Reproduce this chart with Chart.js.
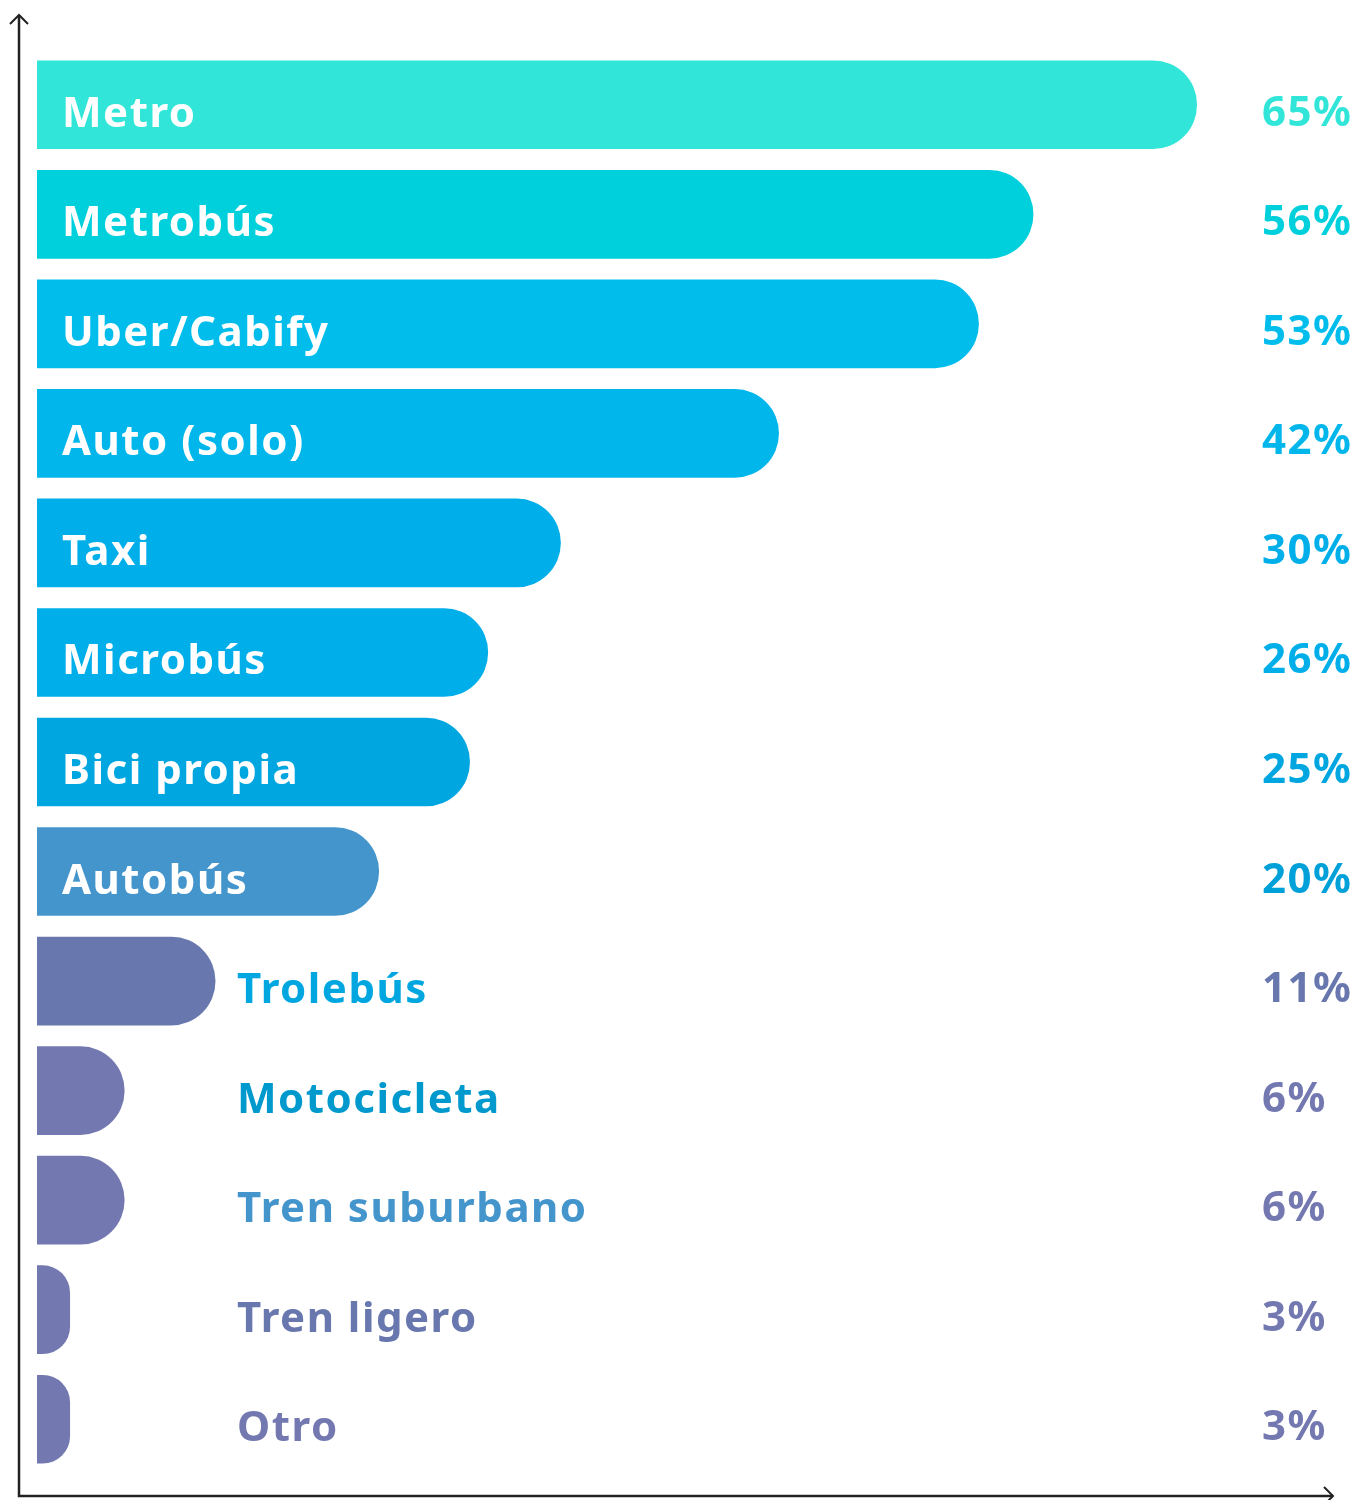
<!DOCTYPE html>
<html>
<head>
<meta charset="utf-8">
<script src="https://cdn.jsdelivr.net/npm/chart.js@4.4.0/dist/chart.umd.min.js"></script>
<style>
  html, body { margin: 0; padding: 0; background: #fff; }
  #wrap { width: 1357px; height: 1500px; position: relative; }
</style>
</head>
<body>
<div id="wrap"><canvas id="myChart"></canvas></div>
<script>
var categorias = ['Metro', 'Metrobús', 'Uber/Cabify', 'Auto (solo)', 'Taxi', 'Microbús', 'Bici propia',
  'Autobús', 'Trolebús', 'Motocicleta', 'Tren suburbano', 'Tren ligero', 'Otro'];
var porcentajes = [65, 56, 53, 42, 30, 26, 25, 20, 11, 6, 6, 3, 3];
var etiquetas = ['65%', '56%', '53%', '42%', '30%', '26%', '25%', '20%', '11%', '6%', '6%', '3%', '3%'];

var coloresBarra = ['#31e6d8', '#00cfdc', '#00bdec', '#00b6ea', '#00aee9', '#00aee9', '#00a6df',
  '#4595cd', '#6878ae', '#7379b0', '#7379b0', '#7379b0', '#7379b0'];
var coloresNombre = ['#fff', '#fff', '#fff', '#fff', '#fff', '#fff', '#fff',
  '#fff', '#00a6df', '#0099cd', '#4595cd', '#6878ae', '#7379b0'];
var coloresPct = ['#31e6d8', '#00cfdc', '#00bdec', '#00b6ea', '#00aee9', '#00aee9', '#00a6df',
  '#00a0d8', '#6878ae', '#7379b0', '#7379b0', '#7379b0', '#7379b0'];

var fuente = '700 42px "Noto Sans", sans-serif';

// ejes con flecha y textos
var ejes = {
  id: 'ejes',
  afterDraw: function(chart) {
    var c = chart.ctx, a = chart.chartArea;
    var x0 = a.left - 18, yb = a.bottom + 22;
    c.save();
    c.strokeStyle = '#222';
    c.lineWidth = 2.5;
    c.beginPath();
    c.moveTo(x0, 15); c.lineTo(x0, yb); c.lineTo(a.right, yb);
    c.stroke();
    c.lineWidth = 2;
    c.beginPath();
    c.moveTo(x0 - 9, 24); c.lineTo(x0, 15); c.lineTo(x0 + 9, 24);
    c.moveTo(a.right - 9, yb - 9); c.lineTo(a.right, yb); c.lineTo(a.right - 9, yb + 9);
    c.stroke();

    var meta = chart.getDatasetMeta(0);
    c.font = fuente;
    c.letterSpacing = '1.5px';
    c.textBaseline = 'alphabetic';
    c.textAlign = 'left';
    meta.data.forEach(function(bar, i) {
      var dentro = coloresNombre[i] === '#fff';
      c.fillStyle = coloresNombre[i];
      c.fillText(categorias[i], dentro ? a.left + 25 : a.left + 200, bar.y + 22);
      c.fillStyle = coloresPct[i];
      c.fillText(etiquetas[i], 1262, bar.y + 21);
    });
    c.restore();
  }
};

var ctx = document.getElementById('myChart').getContext('2d');
var myChart = new Chart(ctx, {
  type: 'bar',
  data: {
    labels: categorias,
    datasets: [{
      data: porcentajes,
      backgroundColor: coloresBarra,
      borderWidth: 0,
      borderRadius: 44,
      borderSkipped: 'start',
      barThickness: 88
    }]
  },
  options: {
    indexAxis: 'y',
    responsive: true,
    maintainAspectRatio: false,
    animation: false,
    layout: { padding: { left: 37, right: 24, top: 50, bottom: 26 } },
    scales: {
      x: { display: false, min: 1.2, max: 72.5 },
      y: { display: false }
    },
    plugins: {
      legend: { display: false },
      tooltip: { enabled: false }
    }
  },
  plugins: [ejes]
});
</script>
</body>
</html>
